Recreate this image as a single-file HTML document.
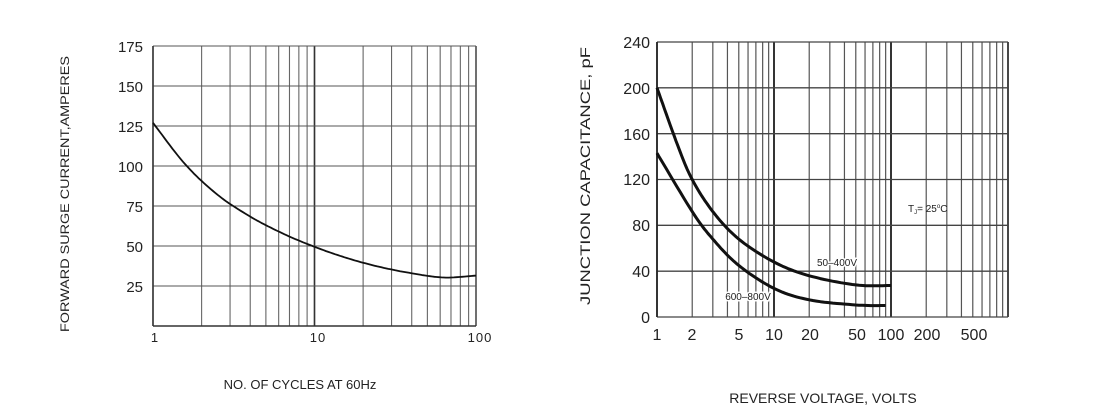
<!DOCTYPE html>
<html><head><meta charset="utf-8"><style>
html,body{margin:0;padding:0;background:#fff;}
svg{display:block;font-family:"Liberation Sans",Arial,sans-serif;}
</style></head><body>
<svg id="s" width="1100" height="418" viewBox="0 0 1100 418" xmlns="http://www.w3.org/2000/svg">
<rect width="1100" height="418" fill="#fff"/>
<g id="g1"></g>
<g font-size="15" fill="#222" text-anchor="end">
<text x="143" y="52">175</text><text x="143" y="92">150</text><text x="143" y="132">125</text>
<text x="143" y="172">100</text><text x="143" y="212">75</text><text x="143" y="252">50</text><text x="143" y="292">25</text>
</g>
<g font-size="13" fill="#222" text-anchor="middle" letter-spacing="1">
<text x="155" y="342">1</text><text x="318" y="342">10</text><text x="480" y="342">100</text>
</g>
<text x="0" y="0" font-size="12" fill="#222" text-anchor="middle" transform="translate(69,194) rotate(-90)" textLength="276" lengthAdjust="spacingAndGlyphs">FORWARD SURGE CURRENT,AMPERES</text>
<text x="300" y="389" font-size="13" fill="#222" text-anchor="middle">NO. OF CYCLES AT 60Hz</text>
<g font-size="16" fill="#222" text-anchor="end">
<text x="650" y="48">240</text><text x="650" y="94">200</text><text x="650" y="140">160</text>
<text x="650" y="185">120</text><text x="650" y="231">80</text><text x="650" y="277">40</text><text x="650" y="323">0</text>
</g>
<g font-size="16" fill="#222" text-anchor="middle">
<text x="657" y="340">1</text><text x="692" y="340">2</text><text x="739" y="340">5</text><text x="774" y="340">10</text>
<text x="810" y="340">20</text><text x="857" y="340">50</text><text x="891" y="340">100</text><text x="927" y="340">200</text><text x="974" y="340">500</text>
</g>
<text x="0" y="0" font-size="14" fill="#222" text-anchor="middle" transform="translate(590,176) rotate(-90)" textLength="258" lengthAdjust="spacingAndGlyphs">JUNCTION CAPACITANCE, pF</text>
<text x="823" y="403" font-size="14" fill="#222" text-anchor="middle">REVERSE VOLTAGE, VOLTS</text>
<text x="837" y="266" font-size="10" fill="#222" text-anchor="middle" style="paint-order:stroke" stroke="#fff" stroke-width="3">50–400V</text>
<text x="748" y="300" font-size="10" fill="#222" text-anchor="middle" style="paint-order:stroke" stroke="#fff" stroke-width="3">600–800V</text>
<text x="908" y="212" font-size="10" fill="#222">T<tspan font-size="6" dy="2">J</tspan><tspan dy="-2">= 25</tspan><tspan font-size="6" dy="-4">o</tspan><tspan dy="4">C</tspan></text>
</svg>
<script>
var NS="http://www.w3.org/2000/svg",g=document.getElementById('g1');
function ln(x1,y1,x2,y2,c,w){var l=document.createElementNS(NS,'line');l.setAttribute('x1',x1);l.setAttribute('y1',y1);l.setAttribute('x2',x2);l.setAttribute('y2',y2);l.setAttribute('stroke',c);l.setAttribute('stroke-width',w);g.appendChild(l);}
function path(pts,w){var p=document.createElementNS(NS,'path');var d='';pts.forEach(function(q,i){d+=(i?'L':'M')+q[0].toFixed(1)+' '+q[1].toFixed(1);});p.setAttribute('d',d);p.setAttribute('fill','none');p.setAttribute('stroke','#111');p.setAttribute('stroke-width',w);p.setAttribute('stroke-linejoin','round');g.appendChild(p);}
function curve(data,X,Y,n){var out=[];for(var i=0;i<data.length-1;i++){var p0=data[Math.max(0,i-1)],p1=data[i],p2=data[i+1],p3=data[Math.min(data.length-1,i+2)];
var a=[Math.log10(p0[0]),p0[1]],b=[Math.log10(p1[0]),p1[1]],c=[Math.log10(p2[0]),p2[1]],d=[Math.log10(p3[0]),p3[1]];
for(var t=0;t<1;t+=1/n){var t2=t*t,t3=t2*t;var f=function(k){return 0.5*((2*b[k])+(-a[k]+c[k])*t+(2*a[k]-5*b[k]+4*c[k]-d[k])*t2+(-a[k]+3*b[k]-3*c[k]+d[k])*t3);};out.push([X(f(0)),Y(f(1))]);}}
var l=data[data.length-1];out.push([X(Math.log10(l[0])),Y(l[1])]);return out;}
var L={x0:153,dec:161.5,y0:326,top:46,r:476};
var lx=function(lg){return L.x0+lg*L.dec;},ly=function(v){return L.y0-v*1.6;};
for(var d=0;d<2;d++)for(var k=1;k<=10;k++){var x=lx(d+Math.log10(k));ln(x,L.top,x,L.y0,(k==1||k==10)?'#333':'#666',(k==1||k==10)?1.4:1.1);}
for(var v=25;v<=175;v+=25){ln(L.x0,ly(v),L.r,ly(v),'#555',1.1);}
ln(L.x0,L.y0,L.r,L.y0,'#333',1.4);ln(L.x0,L.top,L.x0,L.y0,'#333',1.4);
path(curve([[1,127],[1.585,101],[2.512,82],[3.981,68.5],[6.31,58],[10,49.5],[15.85,42.5],[25.12,37],[39.81,33],[63.1,30.3],[100,31.5]],lx,ly,14),1.8);
var R={x0:657,dec:117,y0:317,top:42,r:1008};
var rx=function(lg){return R.x0+lg*R.dec;},ry=function(v){return R.y0-v*275/240;};
for(var d=0;d<3;d++)for(var k=1;k<=10;k++){var x=rx(d+Math.log10(k));if(x>R.r+1)continue;ln(x,R.top,x,R.y0,(k==1||k==10)?'#222':'#555',(k==1||k==10)?1.6:1.2);}
ln(R.r,R.top,R.r,R.y0,'#333',1.4);
for(var v=0;v<=240;v+=40){ln(R.x0,ry(v),R.r,ry(v),'#444',1.3);}
ln(R.x0,R.top,R.x0,R.y0,'#222',1.6);
path(curve([[1,200],[1.5,150],[2,120],[3,92],[5,68],[10,48],[20,36],[50,28],[100,27.5]],rx,ry,12),3);
path(curve([[1,143],[2,92],[3,68],[5,45],[10,25],[20,15],[50,10.5],[90,10]],rx,ry,12),3);
</script>
</body></html>
